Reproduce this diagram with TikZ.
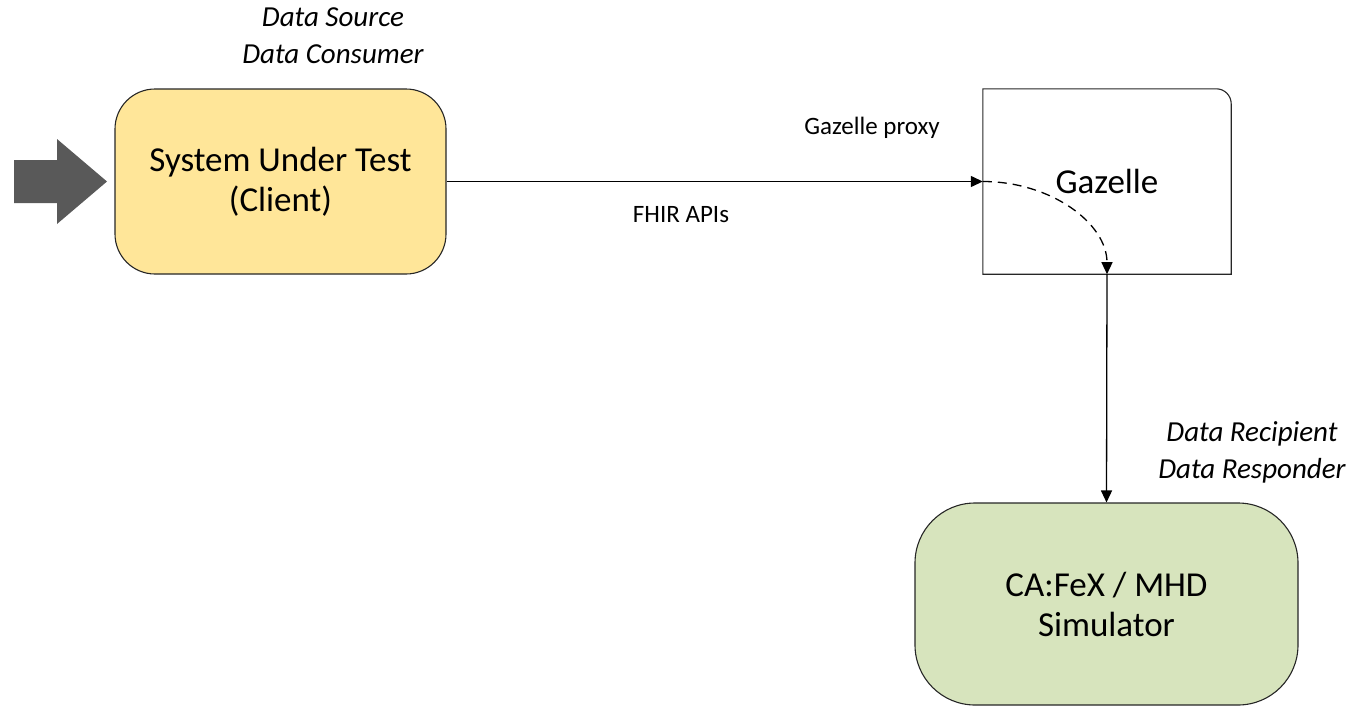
\documentclass[tikz,border=0pt]{standalone}
\usepackage{fontspec}
\setmainfont{Carlito}
\usetikzlibrary{arrows.meta}
\definecolor{sutfill}{HTML}{FFE699}
\definecolor{simfill}{HTML}{D7E4BD}
\definecolor{bigarrow}{HTML}{595959}
\tikzset{
  boxline/.style={draw=black!85, line width=1.1pt},
  maintext/.style={font=\fontsize{35}{40}\selectfont, align=center},
  roletext/.style={font=\fontsize{29}{37}\selectfont\itshape, align=center},
  smalltext/.style={font=\fontsize{25}{30}\selectfont},
  conn/.style={line width=1.3pt, -{Triangle[length=12pt,width=11pt]}},
}
\begin{document}
\begin{tikzpicture}[x=1pt,y=-1pt]
\useasboundingbox (0,0) rectangle (1361,707);
% big input arrow
\fill[bigarrow] (14,160) -- (57,160) -- (57,139) -- (107,181.5) -- (57,224) -- (57,203) -- (14,203) -- cycle;
% System under test
\node[boxline, fill=sutfill, rounded corners=40pt, minimum width=331pt, minimum height=185pt, inner sep=0pt, maintext] (sut) at (280.5,181.5) {System Under Test\\(Client)};
% Gazelle
\node[minimum width=248pt, minimum height=185pt, inner sep=0pt, maintext] (gz) at (1107,181.5) {Gazelle};
\draw[boxline] (gz.south west) -- (gz.north west) -- ([xshift=-15pt]gz.north east) to[out=0,in=90] ([yshift=-15pt]gz.north east) -- (gz.south east) -- cycle;
% Simulator
\node[boxline, fill=simfill, rounded corners=60pt, minimum width=383pt, minimum height=202pt, inner sep=0pt, maintext] (sim) at (1106.5,604) {CA:FeX / MHD\\Simulator};
% labels
\node[roletext] (src) at (333,36) {Data Source\\Data Consumer};
\node[roletext] (rcp) at (1252,452) {Data Recipient\\Data Responder};
\node[smalltext] (proxy) at (872,128) {Gazelle proxy};
\node[smalltext] (fhir) at (681,215) {FHIR APIs};
% connectors
\coordinate (gzin) at (gz.west);
\coordinate (gzout) at (gz.south);
\draw[conn] (sut.east) -- (gzin);
\draw[conn, dash pattern=on 9pt off 6pt] (gzin) .. controls ([xshift=68pt]gzin) and ([yshift=51pt]gzout) .. (gzout);
\draw[conn] (gzout) -- (sim.north);
\end{tikzpicture}
\end{document}
